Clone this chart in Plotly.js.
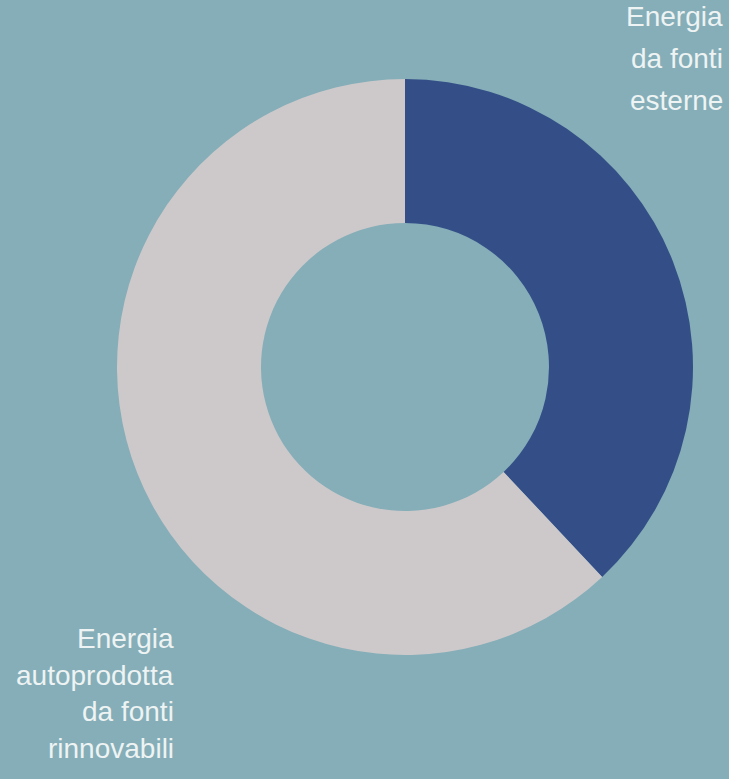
<!DOCTYPE html>
<html>
<head>
<meta charset="utf-8">
<script src="https://cdn.plot.ly/plotly-3.0.1.min.js"></script>
<style>
html,body{margin:0;padding:0;background:#85aeb8;}
#chart{width:729px;height:779px;}
</style>
</head>
<body>
<div id="chart"></div>
<script>
const labels = ["Energia da fonti esterne", "Energia autoprodotta da fonti rinnovabili"];
const values = [38, 62];
const colors = ["#344f87", "#cdc9ca"];
const labelLines = [
  ["Energia", "da fonti", "esterne"],
  ["Energia", "autoprodotta", "da fonti", "rinnovabili"]
];

const W = 729, H = 779;
const cx = 405, cy = 367, R = 288;

const trace = {
  type: "pie",
  labels: labels,
  values: values,
  sort: false,
  direction: "clockwise",
  rotation: 0,
  hole: 0.5,
  textinfo: "none",
  hoverinfo: "skip",
  marker: {colors: colors, line: {width: 0}},
  domain: {
    x: [(cx - R) / W, (cx + R) / W],
    y: [(H - cy - R) / H, (H - cy + R) / H]
  }
};

const font = {family: "Liberation Sans, Arial, Helvetica, sans-serif", size: 28, color: "#eef3f3"};

// label placement: right edge x, top y of first line, line step (px)
const placement = [
  {xr: 724, top: 0, step: 42},
  {xr: 175, top: 622, step: 36.7}
];

const annotations = [];
labelLines.forEach((lines, i) => {
  const p = placement[i];
  lines.forEach((ln, j) => {
    annotations.push({
      text: ln, xref: "paper", yref: "paper",
      x: p.xr / W, y: 1 - (p.top + j * p.step) / H,
      xanchor: "right", yanchor: "top", align: "right",
      showarrow: false, font: font, borderpad: 0
    });
  });
});

const layout = {
  width: W, height: H,
  margin: {l: 0, r: 0, t: 0, b: 0},
  paper_bgcolor: "#85aeb8",
  plot_bgcolor: "#85aeb8",
  showlegend: false,
  annotations: annotations
};

Plotly.newPlot("chart", [trace], layout, {displayModeBar: false, staticPlot: true});
</script>
</body>
</html>
